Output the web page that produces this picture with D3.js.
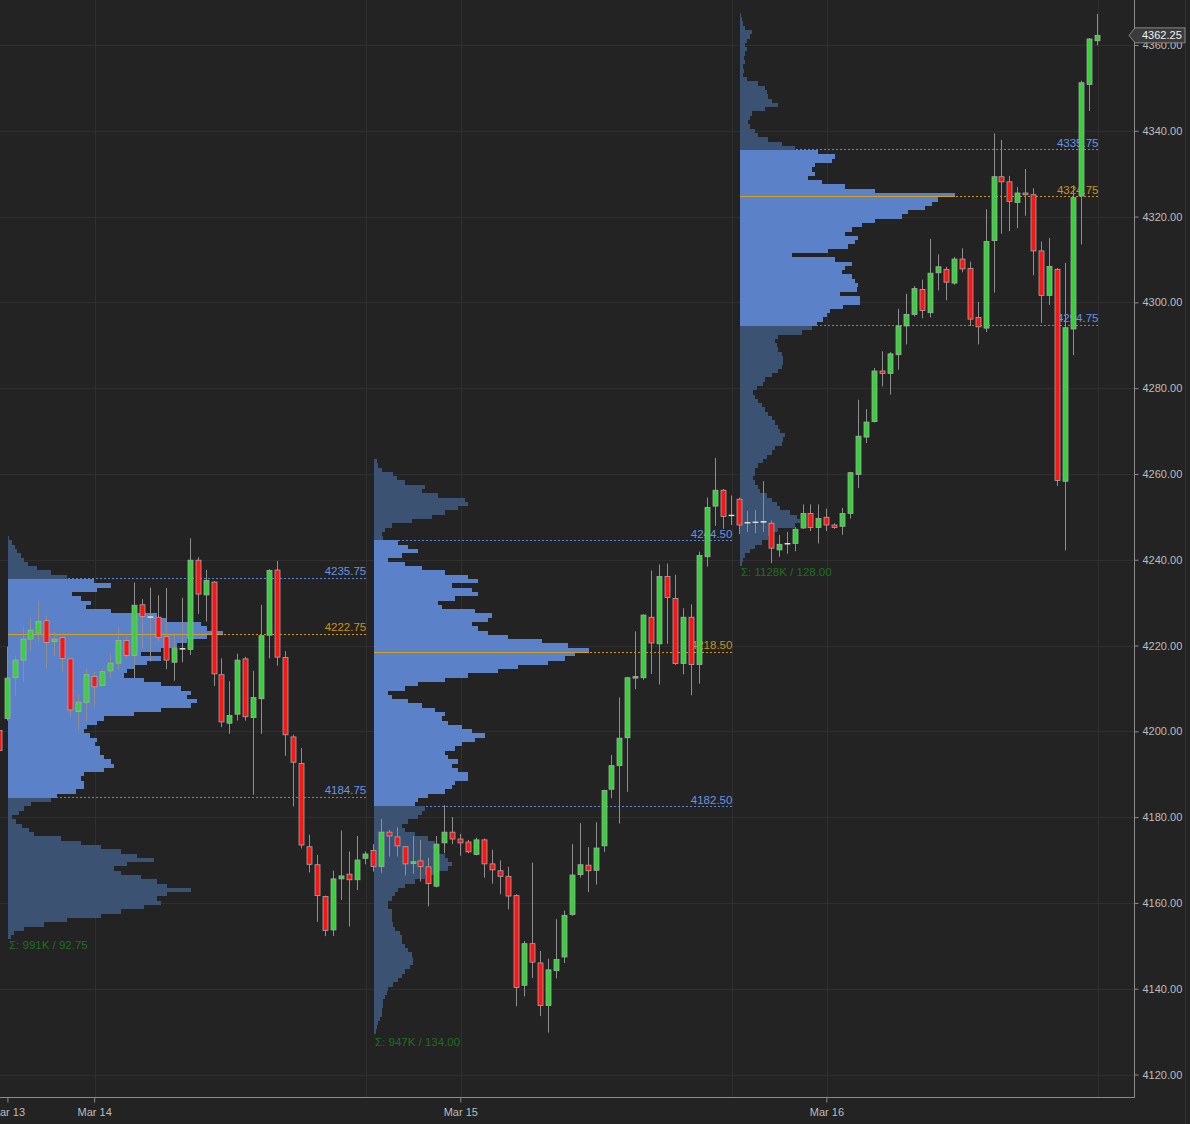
<!DOCTYPE html>
<html><head><meta charset="utf-8">
<script src="https://cdn.jsdelivr.net/npm/d3@7"></script>
<style>html,body{margin:0;padding:0;background:#232323;} svg{display:block;}</style>
</head><body><svg id="c" width="1190" height="1124"></svg>
<script>
// ---- candle data (30-min bars), index k starts at -1 ----
const candleStartIndex = -1;
const candleOpen = [4200.2,
 4203.0,4212.5,4216.6,4221.5,4222.9,4225.8,4220.9,4221.9,4216.9,4204.6,4206.7,4212.8,4210.7,4214.1,4215.9,4221.2,4217.7,4229.5,4226.7,4226.6,4222.1,4216.1,4219.3,4219.1,4239.9,4231.8,4234.8,4213.2,4201.9,4204.0,4216.9,4203.2,4207.6,4222.4,4237.6,4217.2,4198.7,4192.5,4173.1,4168.9,4161.5,4153.7,4165.6,4166.7,4165.4,4170.4,
 4172.2,4168.5,4176.5,4175.4,4173.1,4169.2,4169.8,4168.4,4163.9,4174.0,4176.5,4174.9,4174.2,4171.3,4174.7,4169.1,4167.5,4166.2,4161.7,4140.8,4150.5,4146.0,4136.1,4144.2,4147.4,4157.3,4166.6,4168.8,4167.6,4173.3,4186.5,4192.0,4198.5,4212.4,4212.5,4226.6,4220.4,4236.1,4231.0,4215.8,4226.6,4215.6,4240.7,4252.5,4256.2,4250.4,
 4254.1,4248.7,4248.7,4248.9,4248.5,4242.3,4243.8,4243.8,4247.4,4250.8,4247.5,4249.9,4248.1,4247.8,4250.8,4259.9,4268.6,4272.2,4284.0,4283.4,4287.8,4294.5,4297.2,4303.0,4297.6,4306.9,4307.7,4304.5,4310.1,4307.9,4296.5,4294.0,4314.4,4329.3,4328.1,4323.3,4325.5,4325.1,4312.0,4301.6,4307.7,4258.3,4293.8,4324.8,4350.8,4361.0];
const candleHigh = [4201.0,
 4219.75,4217.8,4224.3,4226.4,4230.4,4227.0,4223.2,4222.0,4217.0,4208.7,4214.6,4213.9,4214.7,4218.0,4224.3,4222.0,4234.7,4230.8,4233.5,4231.7,4233.4,4222.5,4231.1,4245.0,4240.6,4237.6,4235.0,4217.0,4211.7,4218.1,4217.4,4214.1,4229.5,4237.8,4239.7,4218.7,4199.2,4196.1,4175.9,4171.2,4161.7,4167.5,4176.9,4172.0,4175.6,4172.0,
 4173.7,4179.6,4177.0,4177.6,4173.3,4175.6,4174.7,4170.5,4175.6,4182.8,4180.0,4176.1,4174.7,4175.2,4175.0,4172.4,4169.9,4168.4,4162.0,4151.1,4169.4,4148.8,4147.0,4156.2,4158.2,4173.7,4178.6,4173.0,4178.8,4186.4,4194.5,4207.9,4212.7,4223.3,4227.3,4237.5,4238.9,4239.1,4236.5,4228.7,4229.6,4241.9,4254.5,4263.75,4256.5,4255.0,
 4254.5,4251.4,4251.6,4258.3,4249.1,4245.8,4246.5,4247.6,4252.9,4252.9,4252.9,4251.9,4248.5,4252.1,4260.5,4277.3,4275.1,4284.7,4288.6,4288.4,4298.5,4302.0,4303.8,4305.3,4314.8,4311.2,4308.3,4310.6,4312.6,4309.5,4300.1,4321.7,4339.4,4337.9,4329.5,4326.9,4331.1,4326.6,4314.2,4315.0,4308.0,4309.2,4327.3,4351.7,4361.6,4367.25];
const candleLow = [4194.0,
 4202.5,4208.3,4211.6,4218.8,4220.8,4214.7,4217.6,4213.9,4203.4,4200.3,4202.3,4205.8,4210.5,4212.4,4214.3,4217.3,4212.4,4219.4,4216.3,4220.9,4214.5,4211.8,4216.1,4217.8,4227.4,4225.6,4210.6,4201.0,4199.4,4202.5,4202.5,4185.2,4199.4,4217.0,4215.3,4194.3,4182.5,4172.7,4167.1,4155.6,4152.25,4152.3,4160.7,4154.5,4163.0,4169.0,
 4167.3,4167.0,4170.8,4170.8,4166.4,4166.8,4165.0,4159.2,4163.6,4171.6,4173.7,4171.0,4171.6,4171.1,4165.9,4164.5,4162.0,4158.5,4135.9,4138.2,4142.5,4133.6,4129.75,4142.4,4146.0,4157.0,4165.9,4162.5,4164.3,4171.9,4184.4,4178.5,4185.9,4209.8,4212.0,4213.4,4210.9,4220.4,4215.5,4213.3,4208.4,4211.1,4238.4,4247.9,4247.2,4248.1,
 4246.0,4246.5,4246.2,4246.5,4239.25,4240.7,4241.4,4242.0,4247.2,4246.7,4243.8,4246.7,4247.2,4245.8,4249.6,4256.7,4267.2,4272.0,4280.4,4278.5,4284.3,4290.2,4296.7,4296.3,4296.5,4302.8,4300.5,4304.1,4307.0,4294.5,4290.2,4293.1,4302.3,4316.0,4316.6,4317.3,4320.2,4306.3,4295.2,4299.4,4257.2,4242.2,4287.7,4313.5,4344.6,4359.9];
const candleClose = [4195.5,
 4212.4,4216.6,4221.5,4223.6,4225.6,4220.7,4221.5,4217.0,4205.0,4206.8,4213.2,4210.4,4213.9,4215.9,4221.2,4217.7,4229.4,4226.8,4226.7,4221.9,4216.6,4219.4,4219.3,4239.9,4232.0,4235.2,4213.4,4202.2,4203.7,4216.6,4203.4,4207.9,4222.3,4237.5,4217.3,4199.2,4192.8,4173.5,4169.0,4161.7,4153.6,4165.6,4166.3,4165.4,4170.0,4171.4,
 4168.5,4176.5,4175.6,4173.3,4169.1,4169.6,4168.5,4164.5,4173.7,4176.5,4174.9,4174.0,4171.9,4174.7,4169.1,4167.7,4166.2,4161.6,4140.3,4150.5,4146.2,4136.1,4144.4,4146.8,4157.1,4166.5,4168.9,4167.5,4172.8,4186.2,4192.0,4198.4,4212.5,4212.8,4227.1,4220.6,4236.1,4231.2,4215.8,4226.6,4215.6,4241.0,4252.2,4256.2,4250.1,4250.4,
 4248.1,4248.7,4248.8,4248.9,4242.7,4243.6,4243.8,4247.1,4250.8,4247.5,4249.6,4248.1,4247.5,4250.8,4260.3,4268.8,4272.1,4284.0,4283.4,4288.0,4294.5,4297.2,4303.2,4298.1,4306.8,4308.3,4304.7,4310.1,4307.8,4296.1,4294.3,4314.2,4329.3,4328.1,4323.5,4325.5,4325.1,4312.0,4301.6,4308.4,4258.5,4294.1,4324.4,4351.2,4361.4,4362.25];

// ---- sessions / volume profiles ----
const sessionFirstIndex = [0, 46, 92];
const sessionLastIndex = [45, 91, 137];
const sessionPOC = [4222.75, 4218.50, 4324.75];
const sessionVAH = [4235.75, 4244.50, 4335.75];
const sessionVAL = [4184.75, 4182.50, 4294.75];
const sessionVolume = ["991K", "947K", "1128K"];
const sessionRange = ["92.75", "134.00", "128.00"];
// profile volume per 1-pt price level, listed from top price downward (relative units)
const profileTopPrice = [4245, 4263, 4367];
const profile1Volume = [1,4,7,9,13,16,20,29,43,59,86,103,89,64,73,83,78,103,149,159,193,199,215,199,179,169,153,133,153,139,126,119,116,136,153,173,183,179,189,183,153,126,96,89,79,76,82,89,87,92,92,96,103,106,96,76,73,76,76,68,49,43,23,16,11,4,8,14,21,26,53,73,93,113,129,146,119,106,113,133,149,159,183,159,149,153,136,113,93,59,36,16,6,3];
const profile2Volume = [3,4,8,19,23,31,51,48,64,91,94,84,71,58,38,18,11,8,9,24,34,44,28,14,31,48,71,94,104,78,98,104,81,64,68,101,118,114,98,104,114,134,168,194,215,201,191,174,144,124,94,71,44,31,14,18,34,48,61,71,68,74,88,98,111,101,88,81,71,74,84,78,84,94,94,81,78,71,54,44,41,51,48,44,34,28,31,41,54,61,61,61,71,74,78,74,61,51,41,31,24,21,18,14,14,18,18,18,19,21,26,28,28,31,34,38,39,39,36,31,28,24,19,14,13,11,9,9,8,8,6,4,3,2];
const profile3Volume = [1,2,3,5,12,10,7,5,7,5,4,5,3,4,3,7,18,25,27,28,32,38,25,12,10,8,10,15,18,28,42,55,78,95,92,75,72,75,68,82,105,135,215,198,192,185,168,162,135,122,112,105,118,115,108,88,52,95,112,105,102,112,115,118,117,100,120,120,103,90,87,83,77,72,62,38,35,37,38,42,43,43,42,38,32,25,23,17,13,15,18,22,25,28,32,35,38,40,45,43,42,35,32,27,23,18,15,15,13,15,18,20,27,32,37,40,50,57,60,55,38,32,28,22,15,10,5,3,2];
const profileVolumes = [profile1Volume, profile2Volume, profile3Volume];

// ---- axes ----
const priceTicks = [4120,4140,4160,4180,4200,4220,4240,4260,4280,4300,4320,4340,4360];
const dateTickIndex = [0.1, 11, 57, 103];
const dateTickLabels = ["Mar 13", "Mar 14", "Mar 15", "Mar 16"];
const gridIndex = [11, 45, 57, 91, 103, 137];
const lastPrice = 4362.25;

// ---- drawing ----
const W = 1190, H = 1124, plotRight = 1134, plotBottom = 1097;
const maxProfileWidth = 215;
const x = d3.scaleLinear().domain([0, 137]).range([6.6, 1097]);
const y = d3.scaleLinear().domain([4120, 4360]).range([1074.5, 45]);
const font = "'Liberation Sans', Arial, sans-serif";

const svg = d3.select('#c');
svg.append('rect').attr('width', W).attr('height', H).attr('fill', '#232323');
svg.append('line').attr('x1', 1185.5).attr('x2', 1185.5).attr('y1', 0).attr('y2', H).attr('stroke', '#333');

svg.append('defs').append('clipPath').attr('id', 'plot')
  .append('rect').attr('x', 0).attr('y', 0).attr('width', plotRight).attr('height', plotBottom);
const g = svg.append('g').attr('clip-path', 'url(#plot)');

// grid
g.selectAll('line.hg').data(priceTicks).join('line')
  .attr('x1', 0).attr('x2', plotRight)
  .attr('y1', d => Math.round(y(d)) + 0.5).attr('y2', d => Math.round(y(d)) + 0.5)
  .attr('stroke', '#2f2f2f');
g.selectAll('line.vg').data(gridIndex).join('line')
  .attr('x1', d => Math.round(x(d) + 0.8) + 0.5).attr('x2', d => Math.round(x(d) + 0.8) + 0.5)
  .attr('y1', 0).attr('y2', plotBottom)
  .attr('stroke', '#2f2f2f');

const sessions = sessionFirstIndex.map((f, s) => {
  const vols = profileVolumes[s];
  const maxV = d3.max(vols);
  const rows = vols.map((v, i) => ({ p: profileTopPrice[s] - i, v }));
  const lo = d3.min(candleLow.slice(f - candleStartIndex, sessionLastIndex[s] - candleStartIndex + 1));
  return { s, left: Math.round(x(f) + 1), end: x(sessionLastIndex[s]) + 1.5, rows, maxV,
           poc: sessionPOC[s], vah: sessionVAH[s], val: sessionVAL[s], lo };
});
const pw = d3.scaleLinear().range([0, maxProfileWidth]);

sessions.forEach(S => {
  pw.domain([0, S.maxV]);
  const gp = g.append('g');
  [S.vah, S.val].forEach(v => {
    gp.append('line').attr('x1', S.left).attr('x2', S.end)
      .attr('y1', Math.round(y(v)) + 0.5).attr('y2', Math.round(y(v)) + 0.5)
      .attr('stroke', '#5b86d6').attr('stroke-dasharray', '2,2');
  });
  gp.append('line').attr('x1', S.left).attr('x2', S.end)
    .attr('y1', Math.round(y(S.poc)) + 0.5).attr('y2', Math.round(y(S.poc)) + 0.5)
    .attr('stroke', '#c8961e').attr('stroke-dasharray', '2,2');
  // profile bars, tiled on integer pixels so no seams appear
  gp.selectAll('rect').data(S.rows).join('rect')
    .attr('shape-rendering', 'crispEdges')
    .attr('x', S.left)
    .attr('y', d => Math.round(y(d.p + 0.5)))
    .attr('width', d => Math.max(1, Math.round(pw(d.v))))
    .attr('height', d => Math.round(y(d.p - 0.5)) - Math.round(y(d.p + 0.5)))
    .attr('fill', d => (d.p <= S.vah && d.p >= S.val) ? '#5b81c8' : '#3c5273');
  gp.append('line').attr('x1', S.left).attr('x2', S.left + maxProfileWidth)
    .attr('y1', Math.round(y(S.poc)) + 0.5).attr('y2', Math.round(y(S.poc)) + 0.5)
    .attr('stroke', '#d4a020').attr('stroke-width', 1.2);
  const lab = (v, col) => gp.append('text').attr('x', S.end).attr('y', y(v) - 2.5)
    .attr('text-anchor', 'end').attr('fill', col).attr('font-family', font).attr('font-size', 11.5)
    .text(d3.format('.2f')(v));
  lab(S.vah, '#6a93e0'); lab(S.val, '#6a93e0'); lab(S.poc, '#c8921c');
  gp.append('text').attr('x', S.left + 1).attr('y', y(S.lo) + 13)
    .attr('fill', '#1f6e1f').attr('font-family', font).attr('font-size', 11.5)
    .text('\u03A3: ' + sessionVolume[S.s] + ' / ' + sessionRange[S.s]);
});

// candles
const candles = candleOpen.map((o, i) => ({ k: i + candleStartIndex, o, h: candleHigh[i], l: candleLow[i], c: candleClose[i] }));
const gc = g.append('g');
gc.selectAll('line.w').data(candles).join('line')
  .attr('x1', d => Math.round(x(d.k)) + 0.5).attr('x2', d => Math.round(x(d.k)) + 0.5)
  .attr('y1', d => y(d.h)).attr('y2', d => y(d.l))
  .attr('stroke', '#8e8e8e').attr('stroke-width', 1);
gc.selectAll('rect.b').data(candles).join('rect')
  .attr('x', d => Math.round(x(d.k)) - 2)
  .attr('width', 5)
  .attr('y', d => y(Math.max(d.o, d.c)))
  .attr('height', d => Math.max(Math.abs(y(d.o) - y(d.c)), 0.6))
  .attr('fill', d => Math.abs(d.c - d.o) < 0.3 ? '#dddddd' : (d.c > d.o ? '#36d23a' : '#ff1414'))
  .attr('stroke', d => Math.abs(d.c - d.o) < 0.3 ? '#dddddd' : '#a9a9a9')
  .attr('stroke-width', 0.8);

// axes
const axisCol = '#8c8c8c', textCol = '#bdbdbd';
svg.append('line').attr('x1', plotRight + 0.5).attr('x2', plotRight + 0.5).attr('y1', 0).attr('y2', plotBottom + 0.5).attr('stroke', axisCol);
svg.append('line').attr('x1', 0).attr('x2', plotRight + 0.5).attr('y1', plotBottom + 0.5).attr('y2', plotBottom + 0.5).attr('stroke', axisCol);

const yAxis = svg.append('g').attr('transform', `translate(${plotRight + 0.5},0)`)
  .call(d3.axisRight(y).tickValues(priceTicks).tickFormat(d3.format('.2f')).tickSize(4).tickPadding(4));
yAxis.select('.domain').remove();
yAxis.selectAll('line').attr('stroke', axisCol);
yAxis.selectAll('text').attr('fill', textCol).attr('font-family', font).attr('font-size', 11);

const xAxis = svg.append('g').attr('transform', `translate(0,${plotBottom + 0.5})`)
  .call(d3.axisBottom(x).tickValues(dateTickIndex).tickFormat((d, i) => dateTickLabels[i]).tickSize(5).tickPadding(6));
xAxis.select('.domain').remove();
xAxis.selectAll('line').attr('stroke', axisCol);
xAxis.selectAll('text').attr('fill', textCol).attr('font-family', font).attr('font-size', 11);

// last price tag
const ty = y(lastPrice);
svg.append('path')
  .attr('d', `M${plotRight - 5},${ty} L${plotRight + 1},${ty - 7.5} L1185,${ty - 7.5} L1185,${ty + 7.5} L${plotRight + 1},${ty + 7.5} Z`)
  .attr('fill', '#3b3b3b').attr('stroke', '#9a9a9a').attr('stroke-width', 0.8);
svg.append('text').attr('x', 1142).attr('y', ty + 4).attr('fill', '#f2f2f2')
  .attr('font-family', font).attr('font-size', 11).text(d3.format('.2f')(lastPrice));
</script>
</body></html>
